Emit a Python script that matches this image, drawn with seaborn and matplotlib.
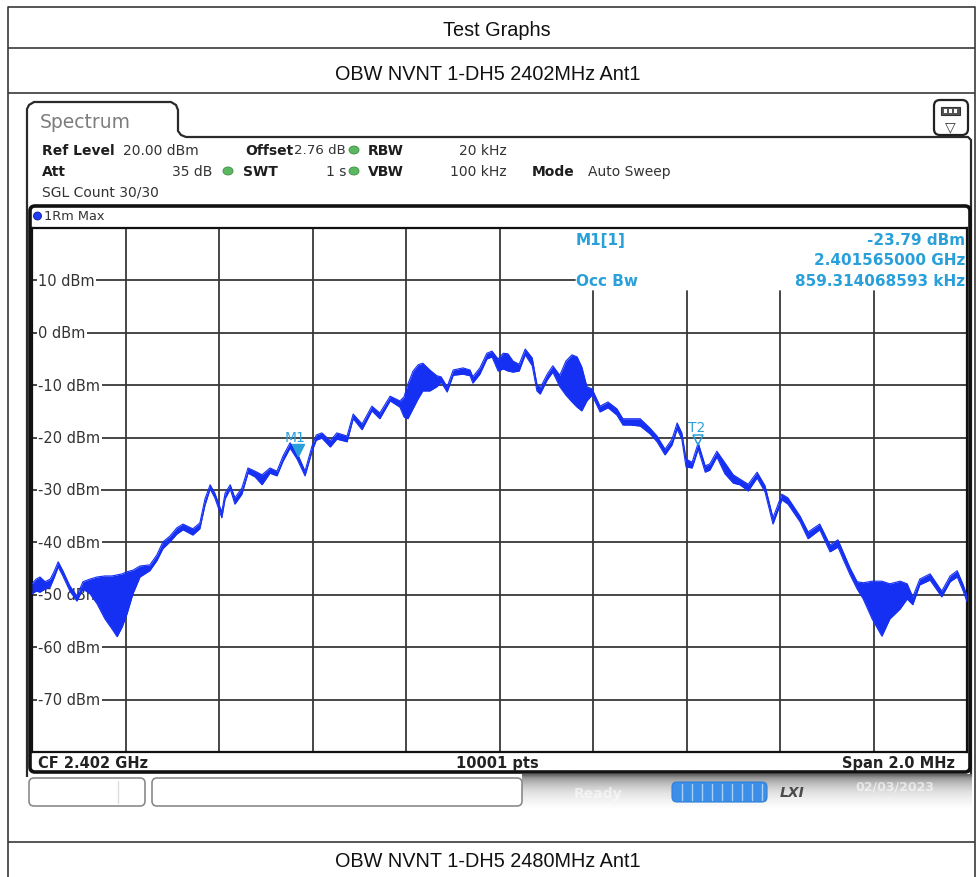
import numpy as np
import pandas as pd
import matplotlib
matplotlib.use("Agg")
import matplotlib.pyplot as plt
import seaborn as sns
from matplotlib.patches import FancyBboxPatch, Polygon, Ellipse, Rectangle

sns.set_theme(style="white")
plt.rcParams['font.family'] = ['DejaVu Sans']

# ---------------- data ----------------
freq_khz = [-1000, -991, -983, -972, -961, -953, -944, -934, -919, -904, -891, -876, -861, -844,
            -829, -818, -807, -797, -784, -769, -748, -733, -720, -705, -690, -677, -656, -641,
            -630, -619, -609, -594, -587, -576, -566, -551, -538, -523, -508, -491, -476, -463,
            -448, -433, -416, -401, -392, -380, -362, -348, -326, -313, -294, -273, -256, -234,
            -213, -204, -196, -185, -174, -164, -149, -134, -125, -112, -99, -78, -63, -57,
            -42, -27, -16, -3, 8, 18, 29, 42, 55, 70, 80, 87, 102, 114,
            129, 142, 155, 166, 176, 187, 198, 215, 232, 251, 264, 279, 301, 322,
            337, 354, 369, 380, 390, 399, 412, 425, 440, 450, 465, 482, 500, 514,
            532, 551, 568, 585, 604, 617, 643, 660, 685, 707, 724, 735, 750, 765,
            778, 797, 818, 835, 857, 872, 884, 899, 921, 946, 964, 979, 991, 1000]
level_hi = [-47.9, -47.0, -46.6, -47.5, -47.0, -45.6, -43.7, -45.4, -48.3, -50.2, -47.5, -47.0, -46.6, -46.4,
            -46.4, -46.2, -46.0, -45.6, -45.3, -44.5, -44.3, -42.4, -39.9, -38.8, -37.2, -36.5, -37.4, -36.3,
            -31.7, -29.0, -30.6, -34.2, -30.6, -29.0, -31.5, -29.6, -25.8, -26.4, -27.1, -25.8, -26.4, -23.5,
            -21.0, -22.9, -26.4, -21.6, -19.5, -19.1, -20.6, -19.1, -19.7, -15.5, -17.4, -14.0, -15.3, -12.1,
            -13.0, -12.2, -9.8, -7.3, -6.1, -5.8, -7.1, -8.2, -8.4, -10.3, -7.1, -6.7, -7.1, -8.4,
            -6.7, -3.9, -3.5, -5.0, -3.9, -4.0, -5.4, -6.0, -3.1, -4.8, -9.8, -10.5, -7.9, -6.3,
            -8.1, -5.4, -4.2, -4.6, -6.5, -10.3, -10.7, -14.0, -13.2, -14.5, -16.4, -16.4, -16.4, -18.2,
            -19.7, -22.2, -20.3, -17.2, -19.1, -24.1, -24.7, -21.0, -25.4, -25.0, -22.6, -24.8, -27.1, -27.9,
            -28.9, -26.6, -29.2, -35.3, -30.8, -31.5, -35.0, -38.0, -36.5, -40.5, -39.5, -41.8, -44.9, -47.5,
            -47.7, -47.4, -47.4, -47.9, -47.4, -47.9, -50.4, -47.0, -46.0, -49.3, -46.4, -45.4, -47.9, -50.2]
level_lo = [-49.8, -49.3, -49.5, -48.9, -48.5, -46.8, -44.7, -46.4, -49.3, -51.2, -48.9, -49.8, -51.7, -54.6,
            -56.5, -58.0, -56.1, -53.7, -49.8, -46.6, -45.4, -43.5, -41.2, -39.9, -38.4, -37.6, -38.6, -37.4,
            -32.9, -29.8, -31.5, -35.3, -31.7, -29.8, -32.7, -30.8, -26.8, -27.5, -29.0, -26.8, -27.3, -24.5,
            -22.0, -24.1, -27.3, -22.6, -20.5, -20.1, -21.8, -20.3, -20.8, -16.4, -18.5, -14.9, -16.4, -13.0,
            -14.2, -16.1, -16.4, -14.5, -12.6, -11.1, -11.1, -10.3, -9.4, -11.3, -8.1, -7.9, -8.2, -9.6,
            -7.9, -5.0, -4.6, -7.3, -6.9, -7.3, -7.5, -7.3, -4.2, -6.3, -11.1, -11.7, -9.0, -7.5,
            -10.3, -11.9, -13.2, -14.2, -14.9, -13.0, -11.9, -15.1, -14.3, -15.7, -17.6, -17.6, -17.8, -19.3,
            -20.8, -23.3, -21.4, -18.4, -20.3, -25.6, -25.8, -22.2, -26.6, -26.2, -23.7, -26.9, -28.7, -29.0,
            -30.2, -27.7, -30.4, -36.5, -31.9, -32.7, -36.1, -39.3, -37.6, -41.8, -40.9, -43.2, -46.2, -48.9,
            -50.8, -54.6, -57.9, -54.6, -52.7, -50.8, -51.9, -48.1, -47.2, -50.4, -47.5, -46.6, -49.1, -51.3]

level_ticks = [10, 0, -10, -20, -30, -40, -50, -60, -70]
level_tick_labels = ["10 dBm", "0 dBm", "-10 dBm", "-20 dBm", "-30 dBm", "-40 dBm",
                     "-50 dBm", "-60 dBm", "-70 dBm"]
freq_grid = [-800, -600, -400, -200, 0, 200, 400, 600, 800]

m1_freq, m1_level = -435, -23.79
t2_freq = 424
marker_lines = [("M1[1]", "-23.79 dBm"), ("", "2.401565000 GHz"), ("Occ Bw", "859.314068593 kHz")]

df = pd.DataFrame({"freq": freq_khz, "hi": level_hi, "lo": level_lo})

# ---------------- figure ----------------
W, H = 976, 878
fig = plt.figure(figsize=(W / 100, H / 100), dpi=100)
fig.patch.set_facecolor("white")
bg = fig.add_axes([0, 0, 1, 1], zorder=0)
bg.set_xlim(0, W)
bg.set_ylim(H, 0)
bg.axis("off")

TABLE = "#3a3a3a"
for yy in [8, 49, 94, 843]:
    bg.plot([8, 975], [yy, yy], color=TABLE, lw=1.2, solid_capstyle="butt")
for xx in [8, 975]:
    bg.plot([xx, xx], [8, H], color=TABLE, lw=1.2)
tfont = dict(family="Liberation Sans", fontsize=14.3, color="#111111", ha="center", va="center")
bg.text(497, 30, "Test Graphs", **tfont)
bg.text(488, 74, "OBW NVNT 1-DH5 2402MHz Ant1", **tfont)
bg.text(488, 862, "OBW NVNT 1-DH5 2480MHz Ant1", **tfont)

# panel with tab
panel = Polygon([(27, 778), (27, 110), (29, 106), (34, 103), (171, 103), (176, 106), (178, 111),
                 (178, 132), (181, 136), (186, 138), (968, 138), (971, 141), (971, 778)],
                closed=False, fill=True, facecolor="white", edgecolor="#2a2a2a", lw=1.6, zorder=1)
bg.add_patch(panel)
bg.text(40, 122, "Spectrum", fontsize=13.5, color="#7d7d7d", ha="left", va="center", zorder=3)

# right icon
bg.add_patch(FancyBboxPatch((934, 101), 34, 35, boxstyle="round,pad=0,rounding_size=6",
                            facecolor="white", edgecolor="#222222", lw=1.6, zorder=3))
bg.add_patch(Rectangle((941, 108), 19, 8, facecolor="#555555", edgecolor="#333333", lw=0.8, zorder=4))
for sx in [945, 950, 955]:
    bg.add_patch(Rectangle((sx - 1.5, 110), 3, 4, facecolor="white", edgecolor="none", zorder=5))
bg.text(950.5, 127, "\u25BD", fontsize=10, color="#333333", ha="center", va="center", zorder=4)

# header
HB = dict(fontsize=10.0, color="#1e1e1e", fontweight="bold", va="center", zorder=3)
HR = dict(fontsize=10, color="#333333", va="center", zorder=3)
bg.text(42, 151, "Ref Level", ha="left", **HB)
bg.text(123, 151, "20.00 dBm", ha="left", **HR)
bg.text(245, 151, "Offset", ha="left", **HB)
bg.text(346, 151, "2.76 dB", ha="right", fontsize=9.6, color="#333333", va="center", zorder=3)
bg.text(368, 151, "RBW", ha="left", **HB)
bg.text(507, 151, "20 kHz", ha="right", **HR)
bg.text(42, 172, "Att", ha="left", **HB)
bg.text(212, 172, "35 dB", ha="right", **HR)
bg.text(243, 172, "SWT", ha="left", **HB)
bg.text(346, 172, "1 s", ha="right", **HR)
bg.text(368, 172, "VBW", ha="left", **HB)
bg.text(507, 172, "100 kHz", ha="right", **HR)
bg.text(532, 172, "Mode", ha="left", **HB)
bg.text(588, 172, "Auto Sweep", ha="left", **HR)
bg.text(42, 193, "SGL Count 30/30", ha="left", **HR)
for (gx, gy) in [(354, 151), (228, 172), (354, 172)]:
    bg.add_patch(Ellipse((gx, gy), 10, 8, facecolor="#5cb860", edgecolor="#3d8f42", lw=0.6, zorder=3))

# trace window box
bg.add_patch(FancyBboxPatch((30, 207), 940, 566, boxstyle="round,pad=0,rounding_size=5",
                            facecolor="white", edgecolor="#111111", lw=2.6, zorder=2))
bg.add_patch(Ellipse((37.5, 217), 8, 8, facecolor="#1f3cf0", edgecolor="#0b1f9e", lw=0.6, zorder=3))
bg.text(44, 217, "1Rm Max", fontsize=9.3, color="#333333", ha="left", va="center", zorder=3)

FB = dict(fontsize=10.5, color="#222222", fontweight="bold", va="center", zorder=3)
bg.text(38, 764, "CF 2.402 GHz", ha="left", **FB)
bg.text(497, 764, "10001 pts", ha="center", **FB)
bg.text(955, 764, "Span 2.0 MHz", ha="right", **FB)

# status bar
grad_vals = np.array([0.40, 0.55, 0.63, 0.69, 0.74, 0.78, 0.82, 0.85, 0.88, 0.90, 0.92,
                      0.94, 0.95, 0.965, 0.98, 0.99, 1.0])
grad = np.repeat(grad_vals[:, None], 2, axis=1)
grad = np.dstack([grad, grad, grad])
bg.imshow(grad, extent=[522, 972, 811, 775], aspect="auto", interpolation="bilinear", zorder=1.5)
bg.add_patch(FancyBboxPatch((29, 779), 116, 28, boxstyle="round,pad=0,rounding_size=5",
                            facecolor="white", edgecolor="#8a8a8a", lw=1.2, zorder=3))
bg.plot([118, 118], [782, 804], color="#dddddd", lw=1, zorder=4)
bg.add_patch(FancyBboxPatch((152, 779), 370, 28, boxstyle="round,pad=0,rounding_size=5",
                            facecolor="white", edgecolor="#8a8a8a", lw=1.2, zorder=3))
bg.text(598, 794, "Ready", fontsize=10, color="white", fontweight="bold", alpha=0.55,
        ha="center", va="center", zorder=3)
bg.add_patch(FancyBboxPatch((672, 783), 95, 20, boxstyle="round,pad=0,rounding_size=5",
                            facecolor="#3b8fe8", edgecolor="#2f7fd8", lw=0.8, zorder=3))
for sx in range(682, 766, 10):
    bg.plot([sx, sx], [785, 801], color="#a9d0f7", lw=1, zorder=4)
bg.text(792, 793, "LXI", fontsize=10, color="#4a4a4a", fontweight="bold", fontstyle="italic",
        ha="center", va="center", zorder=3)
bg.text(895, 787, "02/03/2023", fontsize=9, color="white", fontweight="bold", alpha=0.6,
        ha="center", va="center", zorder=3)

# ---------------- main spectrum axes ----------------
ax = fig.add_axes([32 / W, (H - 753) / H, 935 / W, 524 / H], zorder=1)
ax.set_facecolor("white")
ax.set_xlim(-1000, 1000)
ax.set_ylim(-80, 20)
ax.set_xticks([])
ax.set_yticks([])
for s in ax.spines.values():
    s.set_color("#111111")
    s.set_linewidth(1.6)

GRID = "#383838"
for f in freq_grid:
    top = 8 if f >= 200 else 20
    ax.plot([f, f], [-80, top], color=GRID, lw=1.3, zorder=1)
for lv in level_ticks:
    right = 161 if lv == 10 else 1000
    ax.plot([-1000, right], [lv, lv], color=GRID, lw=1.3, zorder=1)
for lv, lab in zip(level_ticks, level_tick_labels):
    ax.text(-987, lv, lab, fontsize=10.5, color="#333333", ha="left", va="center", zorder=2,
            bbox=dict(facecolor="white", edgecolor="none", pad=1.0))

TRACE = "#1530f2"
ax.fill_between(df["freq"], df["lo"], df["hi"], color=TRACE, lw=0, zorder=3)
sns.lineplot(data=df, x="freq", y="hi", ax=ax, color=TRACE, lw=0.8, zorder=3, sort=False)
sns.lineplot(data=df, x="freq", y="lo", ax=ax, color=TRACE, lw=0.8, zorder=3, sort=False)
ax.set_xlabel("")
ax.set_ylabel("")
ax.set_xlim(-1000, 1000)
ax.set_ylim(-80, 20)

MK = "#2aa0da"
ax.plot([m1_freq + 4], [m1_level + 1.4], marker="v", ms=8, color=MK, zorder=5, ls="none")
ax.text(m1_freq - 2, m1_level + 3.9, "M1", fontsize=10, color=MK, ha="center", va="center", zorder=5)
ax.plot([t2_freq], [-20.4], marker="v", ms=7, mfc="none", mec=MK, mew=1.1, zorder=5, ls="none")
ax.text(t2_freq - 3, -18.0, "T2", fontsize=10, color=MK, ha="center", va="center", zorder=5)

MI = dict(fontsize=11, color=MK, fontweight="bold", va="center", zorder=5, transform=bg.transData)
for (left, right), yy in zip(marker_lines, [241, 261, 282]):
    if left:
        ax.text(576, yy, left, ha="left", **MI)
    ax.text(965, yy, right, ha="right", **MI)

fig.savefig("out.png", dpi=100, facecolor="white")
